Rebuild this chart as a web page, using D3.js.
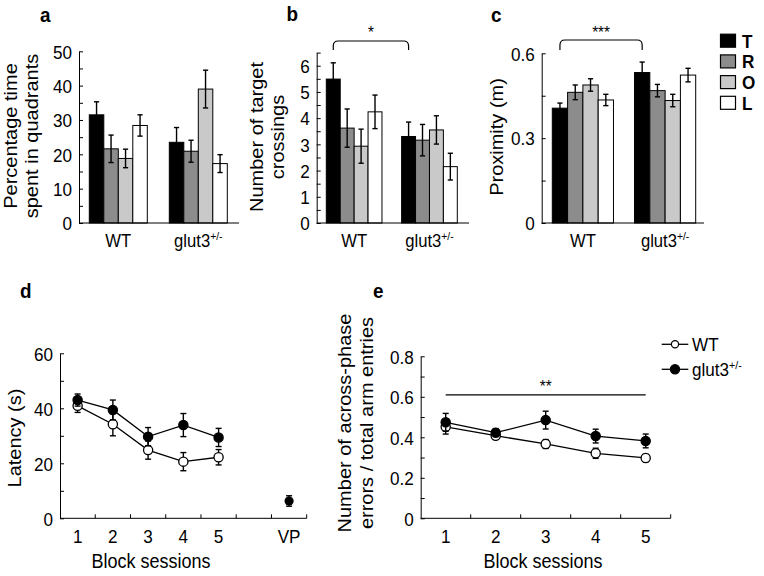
<!DOCTYPE html>
<html>
<head>
<meta charset="utf-8">
<script src="https://cdn.jsdelivr.net/npm/d3@7"></script>
<style>
  html, body { margin: 0; padding: 0; background: #fff; }
  svg { display: block; }
  text { font-family: "Liberation Sans", Arial, Helvetica, sans-serif; fill: #000; }
</style>
</head>
<body>
<svg id="chart" width="764" height="576"></svg>
<script>
// ---------------- DATA ----------------
const groups = ["WT", "glut3"];
const quadrants = ["T", "R", "O", "L"];
const quadrantColors = ["#000000", "#8c8c8c", "#c9c9c9", "#ffffff"];

// a: percentage time spent in quadrants
const timeWT = [31.5, 21.6, 18.8, 28.4];
const timeWTErr = [3.8, 4.0, 2.7, 3.1];
const timeGlut = [23.5, 20.9, 39.0, 17.3];
const timeGlutErr = [4.3, 3.2, 5.5, 2.6];
const timeTicks = [0, 10, 20, 30, 40, 50];

// b: number of target crossings
const crossWT = [5.49, 3.62, 2.93, 4.24];
const crossWTErr = [0.62, 0.73, 0.65, 0.64];
const crossGlut = [3.30, 3.16, 3.55, 2.15];
const crossGlutErr = [0.55, 0.60, 0.54, 0.51];
const crossTicks = [0, 1, 2, 3, 4, 5, 6];

// c: proximity (m)
const proxWT = [0.406, 0.462, 0.488, 0.435];
const proxWTErr = [0.018, 0.026, 0.022, 0.020];
const proxGlut = [0.532, 0.468, 0.433, 0.523];
const proxGlutErr = [0.037, 0.022, 0.022, 0.024];
const proxTicks = [0, 0.3, 0.6];

// d: latency (s)
const latencySessions = ["1", "2", "3", "4", "5", " ", "VP"];
const latencyWT = [40.9, 34.2, 24.8, 20.6, 22.2];
const latencyWTErr = [2.4, 4.2, 3.3, 3.3, 2.8];
const latencyGlut = [43.0, 39.4, 29.7, 33.9, 29.4];
const latencyGlutErr = [2.2, 3.6, 3.3, 4.2, 3.3];
const vpLatency = 6.3;
const vpLatencyErr = 1.9;
const latencyTicks = [0, 20, 40, 60];

// e: across-phase errors / total arm entries
const errorSessions = ["1", "2", "3", "4", "5"];
const errorsWT = [0.452, 0.408, 0.367, 0.321, 0.298];
const errorsWTErr = [0.036, 0.018, 0.022, 0.025, 0.018];
const errorsGlut = [0.474, 0.423, 0.485, 0.406, 0.382];
const errorsGlutErr = [0.044, 0.020, 0.044, 0.034, 0.034];
const errorTicks = [0, 0.2, 0.4, 0.6, 0.8];
const errorSigLevel = 0.61;

// ---------------- DRAWING ----------------
const svg = d3.select("#chart");
const SX = 0.9;              // horizontal squeeze of the original figure's lettering
const FONT_TICK = 19, FONT_TITLE = 20, FONT_LETTER = 21;

function hText(g, x, y, str, size, anchor) {
  return g.append("text")
    .attr("transform", `translate(${x},${y}) scale(${SX},1)`)
    .attr("text-anchor", anchor || "start")
    .attr("font-size", size)
    .text(str);
}

function panelLetter(t, x, y) {
  hText(svg, x, y, t, FONT_LETTER).attr("font-weight", "bold");
}

function yTitle(lines, baselines, cy) {
  lines.forEach((ln, i) => {
    svg.append("text")
      .attr("transform", `translate(${baselines[i]},${cy}) rotate(-90) scale(1,${SX})`)
      .attr("text-anchor", "middle")
      .attr("font-size", FONT_TITLE)
      .text(ln);
  });
}

function genoLabel(g, x, y, name, size, anchor) {
  const t = g.append("text")
    .attr("transform", `translate(${x},${y}) scale(${SX},1)`)
    .attr("text-anchor", anchor).attr("font-size", size);
  if (name === "glut3") {
    t.append("tspan").text("glut3");
    t.append("tspan").attr("font-size", size * 0.62).attr("dy", -7).text("+/-");
  } else {
    t.text(name);
  }
  return t;
}

function yAxis(g, y, ax, ticks, minorStep, fmt) {
  const maxV = y.domain()[1];
  const n = Math.round(maxV / minorStep);
  const all = d3.range(0, n + 1).map(i => +(i * minorStep).toFixed(4));
  const labelSet = new Set(ticks.map(v => +v.toFixed(4)));
  const axis = d3.axisLeft(y).tickValues(all).tickSizeInner(-4).tickSizeOuter(0)
    .tickPadding(7 / SX)
    .tickFormat(d => labelSet.has(+d.toFixed(4)) ? fmt(d) : "");
  const a = g.append("g").attr("transform", `translate(${ax},0)`).call(axis);
  a.selectAll("text").attr("font-size", FONT_TICK).attr("font-family", null)
    .attr("dy", "0.36em").attr("transform", `scale(${SX},1)`);
  a.selectAll("path,line").attr("stroke", "#000").attr("stroke-width", 1);
  return a;
}

function barPanel(opts) {
  const g = svg.append("g");
  const y = d3.scaleLinear().domain([0, opts.max]).range([opts.y0, opts.yTop]);
  const xg = d3.scaleBand().domain(groups).range([opts.barStart, opts.barEnd])
    .paddingInner(opts.groupPad).paddingOuter(0);
  const xq = d3.scaleBand().domain(quadrants).range([0, xg.bandwidth()]).padding(0);

  const data = [];
  groups.forEach((gr, gi) => {
    quadrants.forEach((q, qi) => {
      data.push({ gr, q, qi, v: opts.values[gi][qi], e: opts.errs[gi][qi] });
    });
  });

  g.selectAll("rect.bar").data(data).join("rect")
    .attr("x", d => xg(d.gr) + xq(d.q))
    .attr("y", d => y(d.v))
    .attr("width", xq.bandwidth())
    .attr("height", d => y(0) - y(d.v))
    .attr("fill", d => quadrantColors[d.qi])
    .attr("stroke", "#000").attr("stroke-width", 1);

  const cap = 2.6;
  data.forEach(d => {
    const cx = xg(d.gr) + xq(d.q) + xq.bandwidth() / 2;
    g.append("line").attr("x1", cx).attr("x2", cx)
      .attr("y1", y(d.v + d.e)).attr("y2", y(d.v - d.e))
      .attr("stroke", "#000").attr("stroke-width", 1.4);
    [d.v + d.e, d.v - d.e].forEach(val => {
      g.append("line").attr("x1", cx - cap).attr("x2", cx + cap)
        .attr("y1", y(val)).attr("y2", y(val))
        .attr("stroke", "#000").attr("stroke-width", 1.4);
    });
  });

  yAxis(g, y, opts.axisX, opts.ticks, opts.minor, opts.fmt);
  g.append("line").attr("x1", opts.axisX).attr("x2", opts.axisEnd)
    .attr("y1", y(0)).attr("y2", y(0)).attr("stroke", "#000").attr("stroke-width", 1);
  groups.forEach(gr => genoLabel(g, xg(gr) + xg.bandwidth() / 2, 246.5, gr, 18.5, "middle"));

  if (opts.sig) {
    const x1 = xg(groups[0]) + xq("T") + xq.bandwidth() / 2;
    const x2 = xg(groups[1]) + xq("T") + xq.bandwidth() / 2;
    const top = opts.sigTop, leg = opts.sigLeg, r = 5;
    const p = d3.path();
    p.moveTo(x1, leg); p.lineTo(x1, top + r);
    p.quadraticCurveTo(x1, top, x1 + r, top);
    p.lineTo(x2 - r, top);
    p.quadraticCurveTo(x2, top, x2, top + r);
    p.lineTo(x2, leg);
    g.append("path").attr("d", p.toString()).attr("fill", "none")
      .attr("stroke", "#000").attr("stroke-width", 1.2);
    hText(g, (x1 + x2) / 2, opts.sigTextY, opts.sig, 17, "middle");
  }
  return g;
}

// ---- panel a ----
panelLetter("a", 40, 22);
barPanel({
  values: [timeWT, timeGlut], errs: [timeWTErr, timeGlutErr],
  max: 50, y0: 223, yTop: 51.3, axisX: 79, axisEnd: 239,
  barStart: 89.3, barEnd: 227.3, groupPad: 0.275,
  ticks: timeTicks, minor: 5, fmt: d => d3.format("d")(d)
});
yTitle(["Percentage time", "spent in quadrants"], [17, 37.5], 136);

// ---- panel b ----
panelLetter("b", 286.5, 21);
barPanel({
  values: [crossWT, crossGlut], errs: [crossWTErr, crossGlutErr],
  max: 6.5, y0: 223, yTop: 52.6, axisX: 316.7, axisEnd: 469,
  barStart: 326.3, barEnd: 457.3, groupPad: 0.261,
  ticks: crossTicks, minor: 0.5, fmt: d => d3.format("d")(d),
  sig: "*", sigTop: 41, sigLeg: 50, sigTextY: 38
});
yTitle(["Number of target", "crossings"], [263, 284], 137);

// ---- panel c ----
panelLetter("c", 491, 22);
barPanel({
  values: [proxWT, proxGlut], errs: [proxWTErr, proxGlutErr],
  max: 0.6, y0: 223, yTop: 53.3, axisX: 541.7, axisEnd: 704,
  barStart: 552.3, barEnd: 695.7, groupPad: 0.256,
  ticks: proxTicks, minor: 0.15, fmt: d => d === 0 ? "0" : d3.format(".1f")(d),
  sig: "***", sigTop: 40, sigLeg: 50, sigTextY: 38
});
yTitle(["Proximity (m)"], [503], 137);

// legend (quadrants)
quadrants.forEach((q, i) => {
  const cy = 40.7 + i * 20.7;
  svg.append("rect").attr("x", 720.5).attr("y", cy - 6.5).attr("width", 15).attr("height", 13)
    .attr("fill", quadrantColors[i]).attr("stroke", "#000").attr("stroke-width", 1.2);
  hText(svg, 742, cy + 6.8, q, 19).attr("font-weight", "bold");
});

// ---- line panels ----
function linePanel(opts) {
  const g = svg.append("g");
  const y = d3.scaleLinear().domain([0, opts.max]).range([opts.y0, opts.yTop]);
  const x = d3.scaleBand().domain(opts.cats).range([opts.axisX, opts.axisEnd]).padding(0);
  const cx = i => x(opts.cats[i]) + x.bandwidth() / 2;

  yAxis(g, y, opts.axisX, opts.ticks, opts.minor, opts.fmt);
  g.append("line").attr("x1", opts.axisX).attr("x2", opts.axisEnd)
    .attr("y1", y(0)).attr("y2", y(0)).attr("stroke", "#000").attr("stroke-width", 1);
  opts.cats.forEach((c, i) => {
    const bx = x(c) + x.bandwidth();
    g.append("line").attr("x1", bx).attr("x2", bx).attr("y1", y(0)).attr("y2", y(0) - 4)
      .attr("stroke", "#000").attr("stroke-width", 1);
    hText(g, cx(i), 542.5, c, FONT_TICK, "middle");
  });
  hText(g, opts.xTitleX, 568, "Block sessions", 20, "middle");

  const line = d3.line().x((d, i) => cx(i)).y(d => y(d));
  const cap = 3;
  function series(vals, errs, filled) {
    g.append("path").attr("d", line(vals)).attr("fill", "none")
      .attr("stroke", "#000").attr("stroke-width", 1.3);
    vals.forEach((v, i) => {
      const e = errs[i];
      const x0 = cx(i);
      g.append("line").attr("x1", x0).attr("x2", x0).attr("y1", y(v + e)).attr("y2", y(v - e))
        .attr("stroke", "#000").attr("stroke-width", 1.4);
      [v + e, v - e].forEach(val => g.append("line")
        .attr("x1", x0 - cap).attr("x2", x0 + cap).attr("y1", y(val)).attr("y2", y(val))
        .attr("stroke", "#000").attr("stroke-width", 1.4));
    });
    vals.forEach((v, i) => {
      g.append("circle").attr("cx", cx(i)).attr("cy", y(v)).attr("r", 4.6)
        .attr("fill", filled ? "#000" : "#fff").attr("stroke", "#000").attr("stroke-width", 1.3);
    });
  }
  series(opts.wt, opts.wtErr, false);
  series(opts.glut, opts.glutErr, true);
  return { g, x, y, cx };
}

// ---- panel d ----
panelLetter("d", 20, 298);
const pd = linePanel({
  cats: latencySessions, max: 60, y0: 518.3, yTop: 353.3, axisX: 60, axisEnd: 306.7,
  ticks: latencyTicks, minor: 10, fmt: d => d3.format("d")(d),
  wt: latencyWT, wtErr: latencyWTErr, glut: latencyGlut, glutErr: latencyGlutErr,
  xTitleX: 151
});
{
  const vx = pd.cx(latencySessions.indexOf("VP"));
  const vy = pd.y(vpLatency);
  pd.g.append("line").attr("x1", vx).attr("x2", vx)
    .attr("y1", pd.y(vpLatency + vpLatencyErr)).attr("y2", pd.y(vpLatency - vpLatencyErr))
    .attr("stroke", "#000").attr("stroke-width", 1.4);
  [vpLatency + vpLatencyErr, vpLatency - vpLatencyErr].forEach(val => pd.g.append("line")
    .attr("x1", vx - 3).attr("x2", vx + 3).attr("y1", pd.y(val)).attr("y2", pd.y(val))
    .attr("stroke", "#000").attr("stroke-width", 1.4));
  pd.g.append("circle").attr("cx", vx).attr("cy", vy).attr("r", 4.6).attr("fill", "#000");
}
yTitle(["Latency (s)"], [21], 438);

// ---- panel e ----
panelLetter("e", 373, 298);
const pe = linePanel({
  cats: errorSessions, max: 0.8, y0: 518.3, yTop: 356.3, axisX: 420.7, axisEnd: 670.7,
  ticks: errorTicks, minor: 0.1, fmt: d => d === 0 ? "0" : d3.format(".1f")(d),
  wt: errorsWT, wtErr: errorsWTErr, glut: errorsGlut, glutErr: errorsGlutErr,
  xTitleX: 543
});
{
  const x1 = pe.cx(0), x2 = pe.cx(errorSessions.length - 1);
  pe.g.append("line").attr("x1", x1).attr("x2", x2)
    .attr("y1", pe.y(errorSigLevel)).attr("y2", pe.y(errorSigLevel))
    .attr("stroke", "#000").attr("stroke-width", 1.2);
  hText(pe.g, (x1 + x2) / 2, pe.y(errorSigLevel) - 3, "**", 17, "middle");
}
yTitle(["Number of across-phase", "errors / total arm entries"], [350.5, 373], 423);

// legend (genotypes)
[["WT", false], ["glut3", true]].forEach(([name, filled], i) => {
  const ly = 344.3 + i * 25;
  svg.append("line").attr("x1", 661.7).attr("x2", 688.3).attr("y1", ly).attr("y2", ly)
    .attr("stroke", "#000").attr("stroke-width", 1.3);
  svg.append("circle").attr("cx", 675).attr("cy", ly).attr("r", filled ? 4.6 : 3.6)
    .attr("fill", filled ? "#000" : "#fff").attr("stroke", "#000").attr("stroke-width", 1.2);
  genoLabel(svg, 692, ly + 6.5, name, 19, "start");
});
</script>
</body>
</html>
